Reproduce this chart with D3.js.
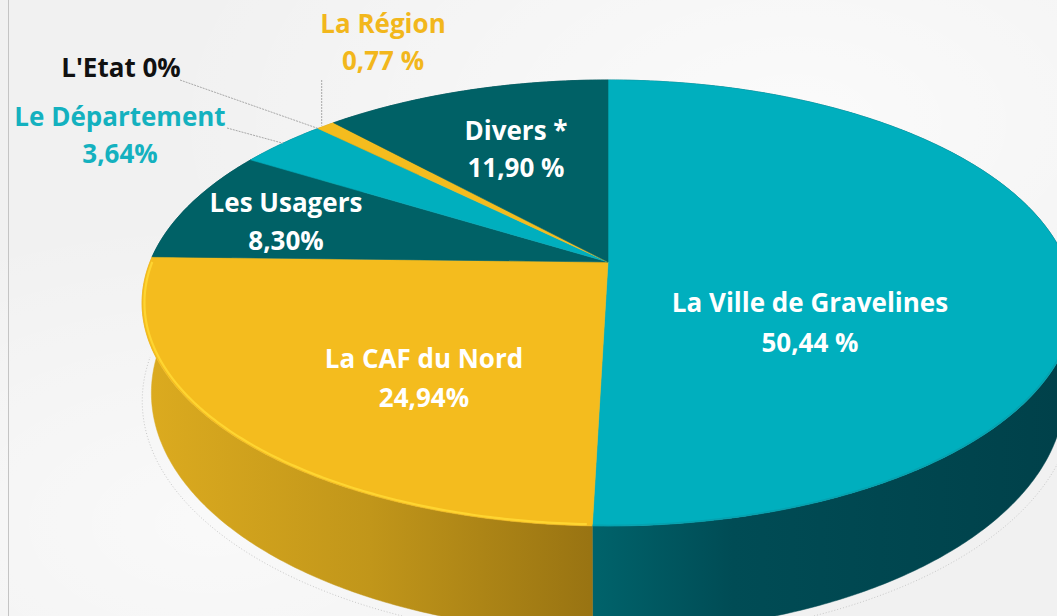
<!DOCTYPE html>
<html>
<head>
<meta charset="utf-8">
<script src="https://cdn.jsdelivr.net/npm/d3@7"></script>
<style>
  html, body { margin: 0; padding: 0; background: #f3f3f3; }
  svg { display: block; }
</style>
</head>
<body>
<svg id="chart" width="1057" height="616"></svg>
<script>
// ---------- data ----------
const categories  = ["La Ville de Gravelines", "La CAF du Nord", "Les Usagers", "Le Département", "L'Etat", "La Région", "Divers *"];
const values      = [50.44, 24.94, 8.30, 3.64, 0, 0.77, 11.90];
const valueLabels = ["50,44 %", "24,94%", "8,30%", "3,64%", "0%", "0,77 %", "11,90 %"];

// ---------- styles / layout ----------
const topColors  = ["#00afbe", "#f4bc1e", "#006166", "#00afbe", "#111111", "#f4bc1e", "#006166"];
const textColors = ["#ffffff", "#ffffff", "#ffffff", "#14b1bf", "#111111", "#f2b71c", "#ffffff"];
// label placement: [centerX, firstBaseline, lineGap, inline]
const labelLayout = [
  [810, 312, 40, false],
  [424, 368, 39, false],
  [286, 212, 38, false],
  [120, 126, 37, false],
  [121, 77, 0, true],
  [383, 33, 37, false],
  [516, 140, 37, false]
];
// leader line label-side end (null = none)
const leaderStart = [null, null, null, [227, 128], [180, 80], ["anchor", 80], null];

const W = 1057, H = 616;
const X0 = 608, Y0 = 262, A = 458, B = 215.5, K = 0.1838, DEPTH = 87, SHRINK = 0.98;

const svg = d3.select("#chart");
const defs = svg.append("defs");

// background texture
const bgGrad = defs.append("radialGradient").attr("id", "bg1").attr("cx", "0.75").attr("cy", "0.2").attr("r", "0.6");
bgGrad.append("stop").attr("offset", "0").attr("stop-color", "#ffffff").attr("stop-opacity", 0.7);
bgGrad.append("stop").attr("offset", "1").attr("stop-color", "#ffffff").attr("stop-opacity", 0);
const bgGrad2 = defs.append("radialGradient").attr("id", "bg2").attr("cx", "0.2").attr("cy", "0.85").attr("r", "0.5");
bgGrad2.append("stop").attr("offset", "0").attr("stop-color", "#ffffff").attr("stop-opacity", 0.6);
bgGrad2.append("stop").attr("offset", "1").attr("stop-color", "#ffffff").attr("stop-opacity", 0);
svg.append("rect").attr("width", W).attr("height", H).attr("fill", "#f1f1f1");
svg.append("rect").attr("width", W).attr("height", H).attr("fill", "url(#bg1)");
svg.append("rect").attr("width", W).attr("height", H).attr("fill", "url(#bg2)");
svg.append("line").attr("x1", 8.5).attr("x2", 8.5).attr("y1", 0).attr("y2", H)
  .attr("stroke", "#c4c4c4").attr("stroke-width", 1);

// side gradients
function sideGrad(id, stops, x1, x2) {
  const g = defs.append("linearGradient").attr("id", id)
    .attr("gradientUnits", "userSpaceOnUse").attr("x1", x1).attr("x2", x2).attr("y1", 0).attr("y2", 0);
  stops.forEach(s => g.append("stop").attr("offset", s[0]).attr("stop-color", s[1]));
}
sideGrad("sideCyan", [[0, "#00636b"], [0.3, "#004c55"], [1, "#00414a"]], 592, 1060);
sideGrad("sideGold", [[0, "#dcab1f"], [0.5, "#c1961a"], [1, "#987312"]], 145, 595);
sideGrad("sideDark", [[0, "#004a50"], [1, "#003b40"]], 140, 1060);
const sideFill = ["url(#sideCyan)", "url(#sideGold)", "url(#sideDark)", "url(#sideCyan)", "#000", "url(#sideGold)", "url(#sideDark)"];

// ---------- projection (perspective disc) ----------
function persp(theta) { return 1 / (1 - K * (-Math.cos(theta))); }
function topPt(theta, r = 1) {
  const u = r * Math.sin(theta), v = -r * Math.cos(theta);
  const s = 1 / (1 - K * v);
  return [X0 + A * u * s, Y0 + B * v * s];
}
function botPt(theta) {
  const p = topPt(theta);
  return [X0 + SHRINK * (p[0] - X0), p[1] + DEPTH * persp(theta)];
}
function arcPts(a0, a1, fn) {
  const n = Math.max(2, Math.ceil(Math.abs(a1 - a0) / 0.01));
  return d3.range(n + 1).map(i => fn(a0 + (a1 - a0) * i / n));
}

const pie = d3.pie().sort(null).startAngle(0).endAngle(2 * Math.PI);
const arcs = pie(values).map((d, i) => ({ ...d, i }));
const line = d3.line();

// faint dotted shadow outline
const shadowPts = arcPts(Math.PI * 0.55, Math.PI * 1.5, t => {
  const p = botPt(t);
  return [X0 + (p[0] - X0) * 1.02, p[1] + 8];
});
svg.append("path").attr("d", line(shadowPts)).attr("fill", "none")
  .attr("stroke", "#c8c8c8").attr("stroke-width", 1).attr("stroke-dasharray", "1,2");

// side bands (back first)
const sideOrder = arcs.filter(d => d.value > 0)
  .sort((a, b) => (-Math.cos((a.startAngle + a.endAngle) / 2)) - (-Math.cos((b.startAngle + b.endAngle) / 2)));
svg.append("g").selectAll("path").data(sideOrder).join("path")
  .attr("d", d => {
    const t = arcPts(d.startAngle, d.endAngle, topPt);
    const b = arcPts(d.endAngle, d.startAngle, botPt);
    return line(t.concat(b)) + "Z";
  })
  .attr("fill", d => sideFill[d.i])
  .attr("stroke", d => sideFill[d.i]).attr("stroke-width", 0.5);

// top faces
svg.append("g").selectAll("path").data(arcs.filter(d => d.value > 0)).join("path")
  .attr("d", d => line([[X0, Y0]].concat(arcPts(d.startAngle, d.endAngle, topPt))) + "Z")
  .attr("fill", d => topColors[d.i])
  .attr("stroke", d => topColors[d.i]).attr("stroke-width", 0.6);

// rim highlight on the gold slice front edge
const caf = arcs[1];
svg.append("path")
  .attr("d", line(arcPts(Math.max(caf.startAngle, Math.PI) + 0.01, Math.min(caf.endAngle, Math.PI * 1.5), t => {
    const p = topPt(t, 0.995); return p;
  })))
  .attr("fill", "none").attr("stroke", "#ffd733").attr("stroke-width", 2.2).attr("opacity", 0.9);
// soft rim on cyan front edge
const ville = arcs[0];
svg.append("path")
  .attr("d", line(arcPts(Math.PI * 0.55, ville.endAngle, t => topPt(t, 0.998))))
  .attr("fill", "none").attr("stroke", "#079aa6").attr("stroke-width", 1.5).attr("opacity", 0.6);

// leader lines
arcs.forEach(d => {
  const ls = leaderStart[d.i];
  if (!ls) return;
  const mid = d.value > 0 ? (d.startAngle + d.endAngle) / 2 : d.startAngle;
  const anchor = topPt(mid);
  const sx = ls[0] === "anchor" ? anchor[0] - 4 : ls[0];
  svg.append("line")
    .attr("x1", sx).attr("y1", ls[1]).attr("x2", ls[0] === "anchor" ? anchor[0] - 4 : anchor[0]).attr("y2", anchor[1])
    .attr("stroke", "#a8a8a8").attr("stroke-width", 1).attr("stroke-dasharray", "2,1");
});

// labels
const labels = svg.append("g")
  .attr("font-family", "'Open Sans', Lato, sans-serif")
  .attr("font-weight", 700)
  .attr("font-size", 26)
  .attr("text-anchor", "middle");
arcs.forEach(d => {
  const [cx, by, gap, inline] = labelLayout[d.i];
  const t = labels.append("text").attr("fill", textColors[d.i]);
  if (inline) {
    t.attr("x", cx).attr("y", by).text(categories[d.i] + " " + valueLabels[d.i]);
  } else {
    t.append("tspan").attr("x", cx).attr("y", by).text(categories[d.i]);
    t.append("tspan").attr("x", cx).attr("y", by + gap).text(valueLabels[d.i]);
  }
});
</script>
</body>
</html>
